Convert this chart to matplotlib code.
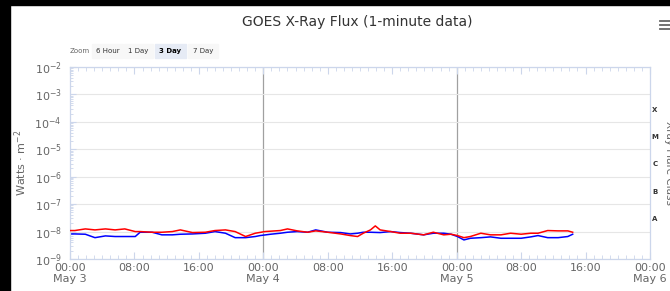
import numpy as np
import matplotlib
matplotlib.use("Agg")
import matplotlib.pyplot as plt
from matplotlib.patches import Rectangle
from matplotlib.transforms import blended_transform_factory
from matplotlib.ticker import LogLocator, MultipleLocator, NullFormatter

# hours since May 3 00:00, flux in units of 1e-9 W/m^2
red_hours = [0, 0.6, 1.9, 3.1, 4.4, 5.6, 6.8, 8.1, 8.7, 10.2, 11.4, 12.7, 13.7, 15.2,
             16.8, 18, 19.3, 20.5, 21.8, 23, 24.2, 26.1, 27, 28.2, 29.5, 30.5, 32,
             33.6, 34.8, 35.7, 36.4, 37.3, 37.9, 38.5, 39.8, 41, 42.3, 43.9, 45.1,
             46.4, 47.3, 48.1, 48.9, 49.7, 51, 52.2, 53.5, 54.7, 56, 57.2, 58.1,
             59.3, 60.6, 61.8, 62.4]
red_vals = [10.9, 10.9, 12.5, 11.5, 12.5, 11.5, 12.5, 10, 10, 9.45, 9.45, 10, 11.5, 9.2,
            9.45, 10.9, 11.5, 10, 6.6, 8.7, 10, 10.9, 12.5, 10.6, 9.45, 10.6, 9.45,
            8.2, 7.15, 6.6, 8.7, 11.5, 16.1, 11.5, 10, 8.7, 8.7, 7.6, 9.45,
            7.6, 8.0, 7.15, 6.0, 6.6, 8.7, 7.6, 7.6, 8.7, 8.0, 8.7, 8.7,
            10.9, 10.6, 10.6, 9.45]

blue_hours = [0, 0.6, 1.9, 3.1, 4.4, 5.6, 6.8, 8.1, 8.7, 10.2, 11.4, 12.7, 13.7, 15.2,
              16.8, 18, 19.3, 20.5, 21.8, 23, 23.6, 24.9, 26.1, 27, 28.2, 29.5, 30.5,
              32, 33.6, 34.8, 35.7, 36.4, 37.3, 38.5, 39.8, 41, 42.3, 43.9, 45.1,
              46.4, 47.3, 48.1, 48.9, 49.7, 51, 52.2, 53.5, 54.7, 56, 57.2, 58.1,
              59.3, 60.6, 61.8, 62.4]
blue_vals = [8.2, 8.2, 8.0, 6.0, 6.95, 6.6, 6.6, 6.6, 9.45, 9.45, 7.6, 7.6, 8.0, 8.2,
             8.7, 10, 8.7, 6.0, 6.0, 6.6, 7.15, 8.0, 8.7, 9.45, 10, 9.45, 11.5,
             9.45, 9.2, 8.2, 8.7, 9.45, 9.45, 9.2, 10, 9.2, 8.7, 7.6, 8.7,
             8.7, 8.0, 6.6, 4.96, 5.7, 6.0, 6.4, 5.7, 5.7, 5.7, 6.4, 7.15,
             6.0, 6.0, 6.6, 8.0]

xtick_hours = [0, 8, 16, 24, 32, 40, 48, 56, 64, 72]
xtick_labels = ["00:00\nMay 3", "08:00", "16:00", "00:00\nMay 4", "08:00", "16:00",
                "00:00\nMay 5", "08:00", "16:00", "00:00\nMay 6"]
flare_classes = ["A", "B", "C", "M", "X"]
flare_levels = [10**-7.55, 10**-6.55, 10**-5.55, 10**-4.55, 10**-3.55]
zoom_buttons = ["6 Hour", "1 Day", "3 Day", "7 Day"]

fig = plt.figure(figsize=(6.7, 2.91), dpi=100)
W, H = 670, 291

def fx(px):
    return px / W

def fy(py):
    return 1 - py / H

# black border of the screenshot
fig.patches.append(Rectangle((0, fy(5)), 1, 5 / H, transform=fig.transFigure, color="black", zorder=0))
fig.patches.append(Rectangle((0, 0), 10 / W, 1, transform=fig.transFigure, color="black", zorder=0))

ax = fig.add_axes([fx(70), fy(259), fx(580), 192 / H])
ax.plot(red_hours, np.array(red_vals) * 1e-9, color="#ff0000", lw=1.1, zorder=3)
ax.plot(blue_hours, np.array(blue_vals) * 1e-9, color="#0000ff", lw=1.1, zorder=2)

ax.set_yscale("log")
ax.set_ylim(1e-9, 1e-2)
ax.set_xlim(0, 72)
ax.yaxis.set_major_locator(LogLocator(base=10, numticks=10))
ax.yaxis.set_minor_locator(LogLocator(base=10, subs=np.arange(2, 10), numticks=20))
ax.yaxis.set_minor_formatter(NullFormatter())
ax.set_xticks(xtick_hours)
ax.set_xticklabels(xtick_labels)
ax.xaxis.set_minor_locator(MultipleLocator(1))

ax.grid(axis="y", which="major", color="#e6e6e6", lw=0.8)
for d in [24, 48]:
    ax.axvline(d, color="#a0a0a0", lw=0.9, zorder=1)

for s in ax.spines.values():
    s.set_color("#ccd6eb")
    s.set_linewidth(0.9)

ax.tick_params(axis="x", which="major", direction="in", length=5, color="#ccd6eb",
               labelsize=8, labelcolor="#666666", top=True, pad=3)
ax.tick_params(axis="x", which="minor", direction="in", length=3, color="#ccd6eb", top=True)
ax.tick_params(axis="y", which="major", direction="in", length=4, color="#ccd6eb",
               labelsize=8, labelcolor="#666666", pad=6)
ax.tick_params(axis="y", which="minor", direction="in", length=2, color="#ccd6eb")
for lbl in ax.get_xticklabels():
    lbl.set_linespacing(1.05)

ax.set_ylabel("Watts · m$^{-2}$", color="#666666", fontsize=8, labelpad=4)

trans = blended_transform_factory(fig.transFigure, ax.transData)
for cls, lvl in zip(flare_classes, flare_levels):
    ax.text(fx(655), lvl, cls, transform=trans, fontsize=5, fontweight="bold",
            color="#333333", ha="center", va="center", clip_on=False)

fig.text(fx(664), fy(163), "Xray Flare Class", rotation=270, fontsize=7.5,
         color="#666666", ha="left", va="center")

fig.text(fx(357), fy(22), "GOES X-Ray Flux (1-minute data)", fontsize=10,
         color="#333333", ha="center", va="center")

# zoom buttons
fig.text(fx(70), fy(51), "Zoom", fontsize=5, color="#666666", ha="left", va="center")
btn_x = [92, 124, 155, 188]
btn_w = [31, 29, 31, 30]
for label, bx, bw in zip(zoom_buttons, btn_x, btn_w):
    active = label == "3 Day"
    fig.patches.append(Rectangle((fx(bx), fy(58)), fx(bw), 14 / H, transform=fig.transFigure,
                                 color="#e6ebf5" if active else "#f7f7f7", zorder=0))
    fig.text(fx(bx + bw / 2), fy(51), label, fontsize=5, color="#000000" if active else "#333333",
             fontweight="bold" if active else "normal", ha="center", va="center")

# menu icon
for yy in [21, 25, 29]:
    fig.add_artist(plt.Line2D([fx(660), fx(670)], [fy(yy), fy(yy)], color="#666666", lw=1.3,
                              transform=fig.transFigure))

fig.savefig("out.png", dpi=100)
